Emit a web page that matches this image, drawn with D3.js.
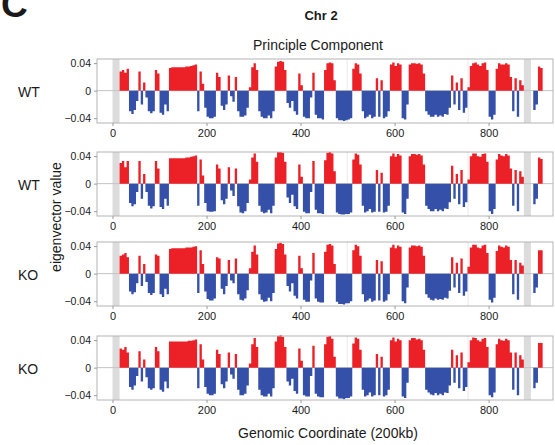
<!DOCTYPE html>
<meta charset="utf-8">
<style>
  body { margin: 0; background: #fff; }
  text { font-family: "Liberation Sans", Arial, sans-serif; fill: #1a1a1a; }
  .axis text { font-size: 10.5px; }
  .axis line { stroke: #9a9a9a; }
  .axis path { display: none; }
</style>
<svg width="555" height="445"></svg>
<script src="https://d3js.org/d3.v7.min.js"></script>
<script>
  // eigenvector values in units of 1e-3, one value per 5 bins, first bin = 15
  var binStart = 15, binStep = 5
  var wt1 = [28,30,26,32,-30,-34,-28,-15,28,-20,12,-10,-30,-33,-30,30,25,-32,-35,-20,-30,
    33,34,34,34,34,34,34,35,35,36,37,38,
    -30,28,10,-25,-38,-40,-40,-38,26,20,-22,-28,-20,22,-8,-16,20,
    -30,-38,-38,-36,-25,5,34,40,30,-30,-38,-40,-40,-36,-40,-30,
    35,42,43,42,30,-18,-25,-15,-30,-35,25,8,-38,-40,-40,-10,26,
    -35,-40,-40,-42,30,40,41,40,15,-40,-43,-43,-44,-43,-42,-40,
    32,40,38,25,-30,-40,-38,-35,-40,-38,18,-38,15,-40,-38,-30,
    38,41,36,40,38,-40,-42,-20,38,40,40,39,40,38,25,
    -30,-35,-38,-38,-35,-38,-36,-38,-34,-35,-25,22,-20,12,-28,18,-32,-25,5,
    36,40,41,38,36,40,41,30,-38,-42,-35,32,40,38,38,40,38,20,
    -30,18,-38,15,8,null,null,null,null,-28,-20,35,33]
  var wt2 = [30,33,24,33,-28,-33,-30,-12,33,-22,14,-12,-32,-36,-33,33,22,-34,-37,-22,-32,
    37,37,37,37,37,37,37,38,38,39,40,41,
    -32,35,12,-28,-40,-41,-41,-40,28,22,-24,-30,-22,24,-10,-18,22,
    -33,-42,-43,-40,-28,6,38,44,32,-32,-41,-43,-42,-38,-43,-32,
    38,46,46,45,32,-20,-28,-16,-33,-37,28,10,-41,-43,-43,-12,33,
    -38,-43,-43,-44,34,45,46,44,18,-42,-44,-45,-45,-44,-44,-42,
    35,44,42,28,-32,-42,-40,-37,-42,-41,20,-41,16,-42,-41,-32,
    40,44,39,43,41,-42,-44,-22,40,43,43,42,43,41,28,
    -32,-37,-40,-40,-37,-40,-38,-40,-36,-37,-27,26,-22,14,-30,20,-34,-27,6,
    40,44,44,40,39,43,44,32,-40,-44,-37,35,43,41,40,43,41,22,
    -32,20,-40,18,10,null,null,null,null,-30,-22,38,36]
  var ko1 = [26,28,30,24,-26,-30,-27,-14,26,-18,14,-12,-28,-31,-28,28,26,-30,-34,-22,-30,
    36,37,37,37,37,37,37,38,38,38,39,40,
    -28,34,14,-26,-37,-39,-39,-36,24,22,-22,-30,-18,20,-10,-14,22,
    -30,-38,-39,-36,-24,8,32,41,28,-30,-38,-41,-40,-35,-40,-28,
    36,44,45,43,28,-18,-26,-14,-32,-36,26,8,-38,-41,-41,-10,30,
    -36,-41,-42,-42,32,42,43,41,14,-41,-44,-44,-45,-43,-43,-40,
    34,42,40,26,-30,-41,-39,-36,-41,-39,20,-39,18,-41,-39,-30,
    38,42,37,41,39,-40,-43,-20,38,41,41,40,41,39,26,
    -30,-35,-38,-39,-36,-38,-37,-38,-35,-36,-25,24,-20,16,-28,22,-32,-26,10,
    38,42,42,38,37,41,42,30,-38,-42,-35,33,41,39,38,41,39,20,
    -30,20,-38,16,12,null,null,null,null,-28,-20,34,34]
  var ko2 = [28,26,30,22,-28,-32,-26,-12,24,-20,12,-14,-30,-32,-30,30,24,-32,-35,-20,-30,
    38,38,38,38,38,38,38,38,39,39,40,41,
    -30,34,12,-28,-38,-40,-40,-38,26,20,-24,-30,-20,22,-10,-16,20,
    -32,-40,-40,-38,-26,6,34,43,30,-32,-40,-42,-42,-38,-42,-30,
    38,46,47,45,30,-20,-26,-16,-34,-38,28,10,-40,-42,-42,-12,32,
    -38,-42,-43,-43,34,45,46,42,16,-42,-45,-45,-46,-44,-44,-42,
    35,44,42,26,-32,-42,-40,-36,-42,-40,20,-40,16,-42,-40,-32,
    40,44,38,42,40,-42,-44,-22,40,43,43,41,42,40,26,
    -32,-36,-39,-40,-37,-40,-38,-40,-36,-37,-26,26,-22,18,-30,22,-34,-28,8,
    40,44,43,40,38,42,43,30,-40,-43,-36,34,42,40,39,42,40,22,
    -32,22,-40,18,12,null,null,null,null,-30,-22,36,36]

  var samples = ["WT", "WT", "KO", "KO"]
  var series = [wt1, wt2, ko1, ko2]
  var xTicks = [0, 200, 400, 600, 800]
  var yTicks = [0.04, 0, -0.04]
  var grayBands = [[0, 15], [875, 890]]
  var faintBands = [[498, 501], [755, 758]]

  var svg = d3.select("svg")
  var red = "#ec2027", blue = "#3550a8"
  var panelTops = [59, 152, 242, 336], panelH = 64

  var x = d3.scaleLinear().domain([-33, 937]).range([97, 553])

  svg.append("text").attr("x", 1).attr("y", 17)
    .style("font-size", "37px").style("font-weight", "bold").text("C")
  svg.append("text").attr("x", 321).attr("y", 20).attr("text-anchor", "middle")
    .style("font-size", "13px").style("font-weight", "bold").text("Chr 2")
  svg.append("text").attr("x", 318).attr("y", 50).attr("text-anchor", "middle")
    .style("font-size", "14px").text("Principle Component")
  svg.append("text").attr("x", 328).attr("y", 438).attr("text-anchor", "middle")
    .style("font-size", "14px").text("Genomic Coordinate (200kb)")
  svg.append("text").attr("transform", "translate(61,217) rotate(-90)")
    .attr("text-anchor", "middle").style("font-size", "14px").text("eigenvector value")

  series.forEach(function (vals, p) {
    var top = panelTops[p]
    var y = d3.scaleLinear().domain([-0.047, 0.046]).range([top + panelH, top])
    var g = svg.append("g")

    // each bin becomes two points (start, end) so the area is a step shape
    var pts = []
    vals.forEach(function (v, i) {
      var u = binStart + i * binStep
      var val = v == null ? null : v / 1000
      pts.push({ u: u, v: val }, { u: u + binStep, v: val })
    })

    g.selectAll(".band").data(grayBands).enter().append("rect")
      .attr("x", function (d) { return x(d[0]) }).attr("y", top)
      .attr("width", function (d) { return x(d[1]) - x(d[0]) }).attr("height", panelH)
      .attr("fill", "#dcdcdc")
    g.selectAll(".faint").data(faintBands).enter().append("rect")
      .attr("x", function (d) { return x(d[0]) }).attr("y", top)
      .attr("width", function (d) { return x(d[1]) - x(d[0]) }).attr("height", panelH)
      .attr("fill", "#efefef")

    g.append("line").attr("x1", x.range()[0]).attr("x2", x.range()[1])
      .attr("y1", y(0)).attr("y2", y(0)).attr("stroke", "#c4c4c4")

    var pos = d3.area()
      .defined(function (d) { return d.v != null })
      .x(function (d) { return x(d.u) })
      .y0(y(0))
      .y1(function (d) { return y(Math.max(d.v, 0)) })
    var neg = d3.area()
      .defined(function (d) { return d.v != null })
      .x(function (d) { return x(d.u) })
      .y0(y(0))
      .y1(function (d) { return y(Math.min(d.v, 0)) })

    g.append("path").attr("d", pos(pts)).attr("fill", red)
    g.append("path").attr("d", neg(pts)).attr("fill", blue)

    g.append("rect").attr("x", x.range()[0]).attr("y", top)
      .attr("width", x.range()[1] - x.range()[0]).attr("height", panelH)
      .attr("fill", "none").attr("stroke", "#b4b4b4")

    g.append("g").attr("class", "axis")
      .attr("transform", "translate(" + x.range()[0] + ",0)")
      .call(d3.axisLeft(y).tickValues(yTicks).tickSize(3).tickPadding(3)
        .tickFormat(function (d) { return d === 0 ? "0" : d3.format(".2f")(d) }))

    g.append("g").attr("class", "axis")
      .attr("transform", "translate(0," + (top + panelH) + ")")
      .call(d3.axisBottom(x).tickValues(xTicks).tickSize(3).tickPadding(3))
      .selectAll("text").style("font-size", "11px")

    svg.append("text").attr("x", 18).attr("y", y(0) + 6)
      .style("font-size", "14px").text(samples[p])
  })
</script>
